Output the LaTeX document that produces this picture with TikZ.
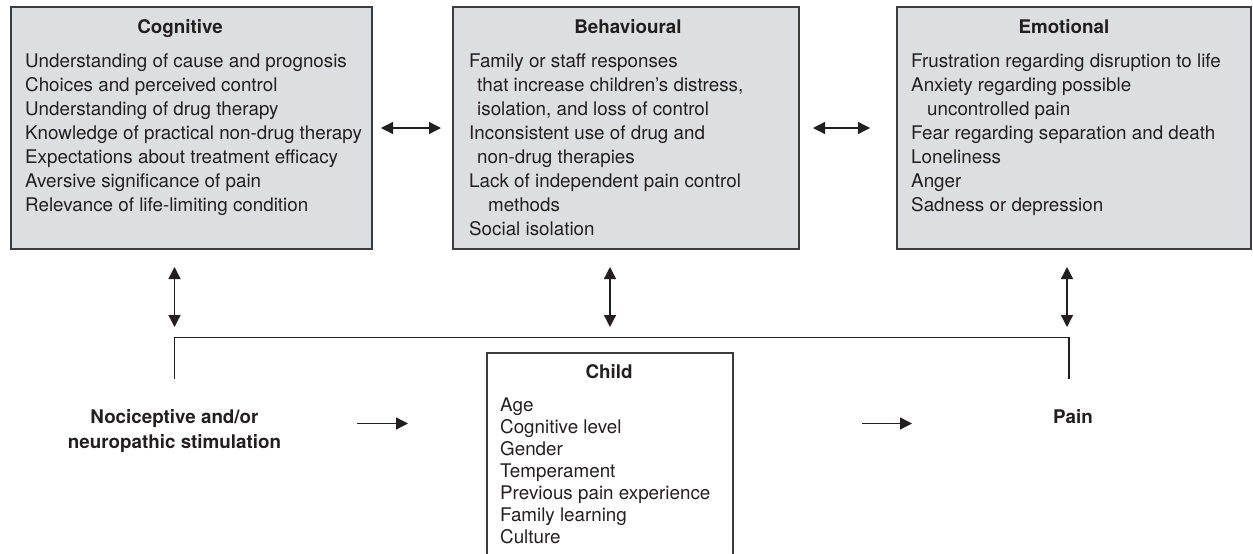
\documentclass[tikz,border=0pt]{standalone}
\usepackage{fontspec}
\setmainfont{TeX Gyre Heros}
\usetikzlibrary{arrows.meta}
\definecolor{boxfill}{HTML}{DCDEE2}
\definecolor{ink}{HTML}{231F20}
\definecolor{edge}{HTML}{3C3C3C}
\begin{document}
\begin{tikzpicture}[x=1pt,y=-1pt,
  gbox/.style={draw=edge, line width=1.5pt, fill=boxfill, anchor=north west, inner sep=0pt, outer sep=0pt},
  wbox/.style={draw=edge, line width=1.5pt, anchor=north west, inner sep=0pt, outer sep=0pt},
  ttl/.style={anchor=base, inner sep=0pt, text=ink, font=\fontsize{18.8}{24}\selectfont\bfseries},
  txt/.style={anchor=north west, align=left, inner sep=0pt, text=ink, font=\fontsize{18.8}{24}\selectfont},
  ctxt/.style={anchor=north west, align=left, inner sep=0pt, text=ink, font=\fontsize{18.8}{22}\selectfont},
  conn/.style={draw=ink, line width=1.3pt},
  dbl/.style={conn, {Triangle[length=12pt,width=12pt]}-{Triangle[length=12pt,width=12pt]}},
  sgl/.style={conn, -{Triangle[length=12pt,width=12pt]}}]
\useasboundingbox (0,0) rectangle (1253,554);
% boxes
\node[gbox, minimum width=361pt, minimum height=242pt] (cog) at (11,7) {};
\node[gbox, minimum width=346pt, minimum height=242pt] (beh) at (453,7) {};
\node[gbox, minimum width=354pt, minimum height=242pt] (emo) at (897,7) {};
\node[wbox, minimum width=246pt, minimum height=230pt] (child) at (487,353) {};
% titles
\node[ttl] (cogt) at (180,33.7) {Cognitive};
\node[ttl] (beht) at (628,33.7) {Behavioural};
\node[ttl] (emot) at (1064,33.7) {Emotional};
\node[ttl] (childt) at (609,378.7) {Child};
% contents
\node[txt] (cogx) at (25,53.5) {Understanding of cause and prognosis\\
Choices and perceived control\\
Understanding of drug therapy\\
Knowledge of practical non-drug therapy\\
Expectations about treatment efficacy\\
Aversive significance of pain\\
Relevance of life-limiting condition};
\node[txt] (behx) at (469,53.5) {Family or staff responses\\
\hspace*{8pt}that increase children’s distress,\\
\hspace*{8pt}isolation, and loss of control\\
Inconsistent use of drug and\\
\hspace*{8pt}non-drug therapies\\
Lack of independent pain control\\
\hspace*{19pt}methods\\
Social isolation};
\node[txt] (emox) at (911,53.5) {Frustration regarding disruption to life\\
Anxiety regarding possible\\
\hspace*{16pt}uncontrolled pain\\
Fear regarding separation and death\\
Loneliness\\
Anger\\
Sadness or depression};
\node[ctxt] (childx) at (500,398) {Age\\
Cognitive level\\
Gender\\
Temperament\\
Previous pain experience\\
Family learning\\
Culture};
% side labels
\node[ttl, align=center, anchor=base] (stim) at (174.5,448.5) {Nociceptive and/or\\[1pt]neuropathic stimulation};
\node[ttl] (pain) at (1073,423.7) {Pain};
% coordinates
\coordinate (a1t) at (174.5,267);
\coordinate (a1b) at (174.5,327);
\coordinate (a2t) at (610,267);
\coordinate (a2b) at (610,327);
\coordinate (a3t) at (1067,267);
\coordinate (a3b) at (1067,327);
\coordinate (barL) at (174.5,379);
\coordinate (barR) at (1069,379);
% connectors
\draw[dbl] ([xshift=9pt]cog.east) -- ([xshift=-12pt]beh.west);
\draw[dbl] ([xshift=14pt]beh.east) -- ([xshift=-27pt]emo.west);
\draw[dbl] (a1t) -- (a1b);
\draw[dbl] (a2t) -- (a2b);
\draw[dbl] (a3t) -- (a3b);
\draw[conn] (barL) -- (barL |- 0,337.5) -- (barR |- 0,337.5) -- (barR);
\coordinate (s1) at (357,423.5);
\coordinate (s2) at (408,423.5);
\coordinate (p1) at (862,423.5);
\coordinate (p2) at (912,423.5);
\draw[sgl] (s1) -- (s2);
\draw[sgl] (p1) -- (p2);
\end{tikzpicture}
\end{document}
